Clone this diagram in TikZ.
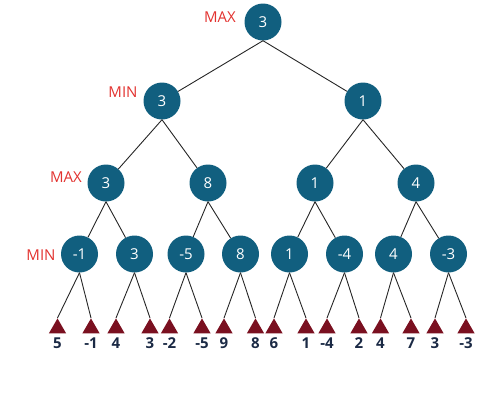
\documentclass[tikz,border=0pt]{standalone}
\usepackage{fontspec}
\setmainfont{Open Sans}
\usetikzlibrary{shapes.geometric}
\definecolor{nodeblue}{HTML}{115F7F}
\definecolor{leafred}{HTML}{7A1020}
\definecolor{tagred}{HTML}{E2322F}
\definecolor{numdark}{HTML}{1B2A45}
\tikzset{
  mm/.style={circle, fill=nodeblue, minimum size=37pt, inner sep=0pt, text=white, font=\fontsize{15}{17}\selectfont},
  leaf/.style={regular polygon, regular polygon sides=3, fill=leafred, minimum size=20pt, inner sep=0pt, anchor=north},
  lbl/.style={text=numdark, font=\fontsize{15}{17}\selectfont\bfseries, inner sep=0pt},
  tag/.style={text=tagred, font=\fontsize{15}{17}\selectfont},
  edge/.style={draw=black!85, line width=0.9pt}
}
\begin{document}
\begin{tikzpicture}[x=1pt,y=-1pt]
\useasboundingbox (0,0) rectangle (500,400);
% tree nodes
\node[mm] (r) at (263,22) {3};
\node[mm] (a) at (162,101) {3};
\node[mm] (b) at (363,101) {1};
\node[mm] (aa) at (106,183) {3};
\node[mm] (ab) at (208,183) {8};
\node[mm] (ba) at (315,183) {1};
\node[mm] (bb) at (416,183) {4};
\node[mm] (c1) at (79.5,254) {-1};
\node[mm] (c2) at (134.5,254) {3};
\node[mm] (c3) at (186,254) {-5};
\node[mm] (c4) at (240.5,254) {8};
\node[mm] (c5) at (289.5,254) {1};
\node[mm] (c6) at (344.5,254) {-4};
\node[mm] (c7) at (393.5,254) {4};
\node[mm] (c8) at (448.5,254) {-3};
% tags
\node[tag] (t0) at (220,17) {MAX};
\node[tag] (t1) at (123,92) {MIN};
\node[tag] (t2) at (66,177) {MAX};
\node[tag] (t3) at (41,255) {MIN};
% leaves
\foreach \n/\x/\v in {1/57.5/5, 2/91/-1, 3/116/4, 4/150/3, 5/169.5/-2, 6/202/-5, 7/224/9, 8/255.5/8,
                      9/274/6, 10/306/1, 11/327/-4, 12/359/2, 13/380.5/4, 14/411/7, 15/435/3, 16/466/-3}{
  \node[leaf] (l\n) at (\x,318) {};
  \node[lbl, anchor=north] (v\n) at (\x,337.5) {\v};
}
% edges
\foreach \p/\c in {r/a, r/b, a/aa, a/ab, b/ba, b/bb, aa/c1, aa/c2, ab/c3, ab/c4, ba/c5, ba/c6, bb/c7, bb/c8}{
  \draw[edge] (\p.south) -- (\c);
}
\foreach \p/\i/\j in {c1/1/2, c2/3/4, c3/5/6, c4/7/8, c5/9/10, c6/11/12, c7/13/14, c8/15/16}{
  \draw[edge] (\p.south) -- (l\i.north);
  \draw[edge] (\p.south) -- (l\j.north);
}
\end{tikzpicture}
\end{document}
